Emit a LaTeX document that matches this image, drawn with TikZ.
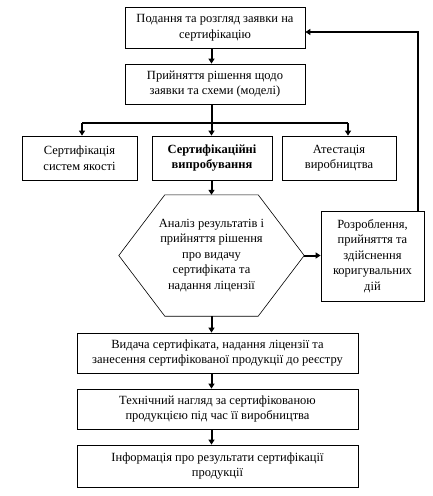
\documentclass[tikz,border=0pt]{standalone}
\usepackage{fontspec}
\setmainfont{Liberation Serif}
\usetikzlibrary{arrows.meta,calc}

\tikzset{
  blok/.style={draw, line width=0.8pt, align=center, inner sep=2pt,
    font=\fontsize{12.5}{15.5}\selectfont},
  tekst/.style={align=center, inner sep=0pt, font=\fontsize{12.5}{15.5}\selectfont},
  zvyazok/.style={line width=2pt, -{Triangle[length=5pt,width=6pt]}},
}

\begin{document}
\begin{tikzpicture}[x=1pt, y=-1pt]
  \useasboundingbox (0,0) rectangle (433,496);

  % Top boxes
  \node[blok, minimum width=180, minimum height=41] (podannia) at (215,27.5)
    {Подання та розгляд заявки на\\сертифікацію};
  \node[blok, minimum width=180, minimum height=40] (rishennia) at (215,84)
    {Прийняття рішення щодо\\заявки та схеми (моделі)};

  % Three branches
  \node[blok, minimum width=115, minimum height=44] (systemy) at (79.5,158)
    {Сертифікація\\систем якості};
  \node[blok, minimum width=120, minimum height=44] (vyprob) at (212,158)
    {\bfseries Сертифікаційні\\\bfseries випробування};
  \node[blok, minimum width=114, minimum height=44] (atest) at (339,158)
    {Атестація\\виробництва};

  % Hexagon
  \node[tekst, minimum width=185, minimum height=121] (analiz) at (211.5,255.5)
    {Аналіз результатів і\\прийняття рішення\\про видачу\\сертифіката та\\надання ліцензії};
  \draw[line width=0.6pt] (analiz.west) -- ($(analiz.north west)+(46,0)$)
    -- ($(analiz.north east)+(-46,0)$) -- (analiz.east)
    -- ($(analiz.south east)+(-46,0)$) -- ($(analiz.south west)+(46,0)$) -- cycle;
  \node[blok, minimum width=103, minimum height=90] (koryg) at (372.5,256)
    {Розроблення,\\прийняття та\\здійснення\\коригувальних\\дій};

  % Bottom boxes
  \node[blok, minimum width=281, minimum height=40] (vydacha) at (217.5,353)
    {Видача сертифіката, надання ліцензії та\\занесення сертифікованої продукції до реєстру};
  \node[blok, minimum width=281, minimum height=40] (nahliad) at (217.5,409)
    {Технічний нагляд за сертифікованою\\продукцією під час її виробництва};
  \node[blok, minimum width=281, minimum height=42] (info) at (217.5,466)
    {Інформація про результати сертифікації\\продукції};

  % Arrows
  \coordinate (shyna) at (211.5,123);
  \coordinate (shynal) at (82,123);
  \coordinate (shynar) at (348,123);
  \coordinate (zvorot) at (418,32);
  \draw[zvyazok] (podannia.south -| analiz.center) -- (rishennia.north -| analiz.center);
  \draw[line width=2pt] (rishennia.south -| shyna) -- (shyna);
  \draw[line width=2pt] (shynal) -- (shynar);
  \draw[zvyazok] (shynal) -- (shynal |- systemy.north);
  \draw[zvyazok] (shyna) -- (shyna |- vyprob.north);
  \draw[zvyazok] (shynar) -- (shynar |- atest.north);
  \draw[zvyazok] (vyprob.south -| analiz.center) -- (analiz.north);
  \draw[zvyazok] (analiz.east) -- (koryg.west |- analiz.east);
  \draw[zvyazok] (zvorot |- koryg.north) -- (zvorot) -- (zvorot -| podannia.east);
  \draw[zvyazok] (analiz.south) -- (vydacha.north -| analiz.south);
  \draw[zvyazok] (vydacha.south -| analiz.center) -- (nahliad.north -| analiz.center);
  \draw[zvyazok] (nahliad.south -| analiz.center) -- (info.north -| analiz.center);
\end{tikzpicture}
\end{document}
